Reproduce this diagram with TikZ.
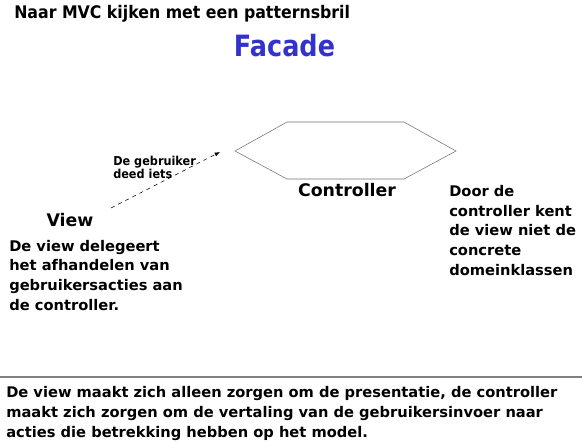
\documentclass[tikz,border=0pt]{standalone}
\usepackage{fontspec}
\setmainfont{DejaVu Sans}
\newfontfamily\narrowfont[FakeStretch=0.91]{DejaVu Sans}
\newfontfamily\facadefont[FakeStretch=0.87]{DejaVu Sans}
\newfontfamily\smallfont[FakeStretch=0.92]{DejaVu Sans}
\usetikzlibrary{arrows.meta, positioning}
\definecolor{facadeblue}{RGB}{51,51,204}
\definecolor{hexgray}{RGB}{110,110,110}
\tikzset{
  txt/.style={font=\bfseries\fontsize{11}{14.7}\selectfont, align=left, inner sep=0pt},
  small/.style={font=\smallfont\bfseries\fontsize{9.2}{10}\selectfont, align=left, inner sep=0pt},
  head/.style={font=\bfseries\fontsize{13}{16}\selectfont, inner sep=0pt}
}

\begin{document}
\begin{tikzpicture}[x=0.75pt, y=-0.75pt]
\useasboundingbox (0,0) rectangle (582,442);

% Titles
\node[head, anchor=base west, font=\narrowfont\bfseries\fontsize{13}{16}\selectfont] (title) at (14,18.5) {Naar MVC kijken met een patternsbril};
\node[anchor=base, inner sep=0pt, text=facadeblue, font=\facadefont\bfseries\fontsize{22}{26}\selectfont] (facade) at (284.5,56.5) {Facade};

% Controller
\draw[hexgray] (235,151) coordinate (hexL) -- (287,122) -- (404,122) -- (456,151) -- (404,179) -- (287,179) -- cycle;
\node[head, anchor=base] (ctrl) at (347,197) {Controller};

% User action
\coordinate (userstart) at (111,208);
\coordinate (usertip) at (220,152);
\draw[dashed, -{Latex[length=4pt, width=3pt]}] (userstart) -- (usertip);
\node[small, anchor=base west] (action) at (113,178.5) {De gebruiker\\deed iets};

% View
\node[head, anchor=base] (view) at (70,226.5) {View};
\node[txt, anchor=base west] (viewtxt) at (9,310) {De view delegeert\\het afhandelen van\\gebruikersacties aan\\de controller.};

% Remark right
\node[txt, anchor=base west] (remark) at (449,275) {Door de\\controller kent\\de view niet de\\concrete\\domeinklassen};

% Bottom
\draw[gray, line width=1pt] (0,377) coordinate (lineL) -- (582,377) coordinate (lineR);
\node[txt, anchor=base west] (summary) at (6,437) {De view maakt zich alleen zorgen om de presentatie, de controller\\maakt zich zorgen om de vertaling van de gebruikersinvoer naar\\acties die betrekking hebben op het model.};
\end{tikzpicture}
\end{document}
